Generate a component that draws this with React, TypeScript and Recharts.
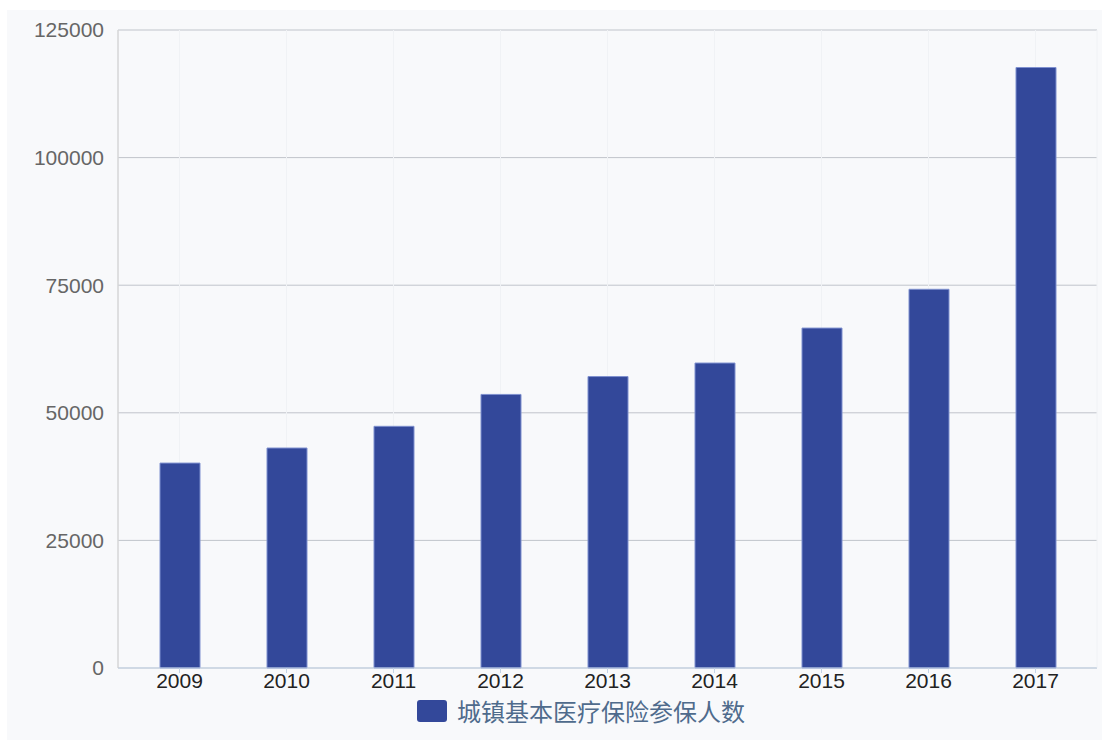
import { BarChart, Bar, XAxis, YAxis, CartesianGrid, Legend } from 'recharts';

const years = ['2009', '2010', '2011', '2012', '2013', '2014', '2015', '2016', '2017'];
const insured = [40150, 43100, 47350, 53600, 57100, 59750, 66600, 74200, 117650];
const yTicks = [0, 25000, 50000, 75000, 100000, 125000];
const seriesName = '城镇基本医疗保险参保人数';

const data = years.map((year, i) => ({ year, insured: insured[i] }));

const LegendBox = () => (
  <div style={{ display: 'flex', alignItems: 'center', height: 24, marginTop: 1, paddingLeft: 409 }}>
    <span
      style={{
        display: 'inline-block',
        width: 30,
        height: 22,
        background: '#33489a',
        borderRadius: 3,
        marginRight: 10,
      }}
    />
    <span style={{ fontFamily: '"Noto Sans CJK SC", sans-serif', fontSize: 24, lineHeight: '24px', color: '#4f6b8c' }}>
      {seriesName}
    </span>
  </div>
);

export default function App() {
  return (
    <div style={{ position: 'absolute', left: 0, top: 0, width: 1102, height: 740, background: '#ffffff' }}>
      <div style={{ position: 'absolute', left: 7, top: 10, right: 0, bottom: 0, background: '#f8f9fb' }} />
      <div style={{ position: 'absolute', left: 0, top: 0 }}>
        <BarChart
          width={1102}
          height={740}
          data={data}
          margin={{ top: 30, right: 5, bottom: 4, left: 8 }}
          style={{ fontFamily: '"Liberation Sans", Arial, sans-serif' }}
        >
          <CartesianGrid stroke="#c0c4cb" vertical={false} />
          <CartesianGrid stroke="#f0f2f5" horizontal={false} />
          <XAxis
            dataKey="year"
            height={30}
            padding={{ left: 8, right: 8 }}
            axisLine={{ stroke: '#c3d3e6' }}
            tickLine={{ stroke: '#c3d3e6' }}
            tickSize={5}
            tickMargin={0}
            tick={{ fontSize: 21, fill: '#222222' }}
            interval={0}
          />
          <YAxis
            width={110}
            domain={[0, 125000]}
            ticks={yTicks}
            axisLine={{ stroke: '#c8c8c8' }}
            tickLine={false}
            tickSize={0}
            tickMargin={14}
            tick={{ fontSize: 21, fill: '#666666' }}
          />
          <YAxis
            yAxisId="right"
            orientation="right"
            width={0}
            domain={[0, 125000]}
            axisLine={{ stroke: '#c8c8c8' }}
            tick={false}
            tickLine={false}
          />
          <Legend verticalAlign="bottom" height={38} content={<LegendBox />} />
          <Bar
            dataKey="insured"
            name={seriesName}
            fill="#33489a"
            stroke="#7f90cf"
            strokeWidth={1}
            barSize={40}
            isAnimationActive={false}
          />
        </BarChart>
      </div>
    </div>
  );
}
